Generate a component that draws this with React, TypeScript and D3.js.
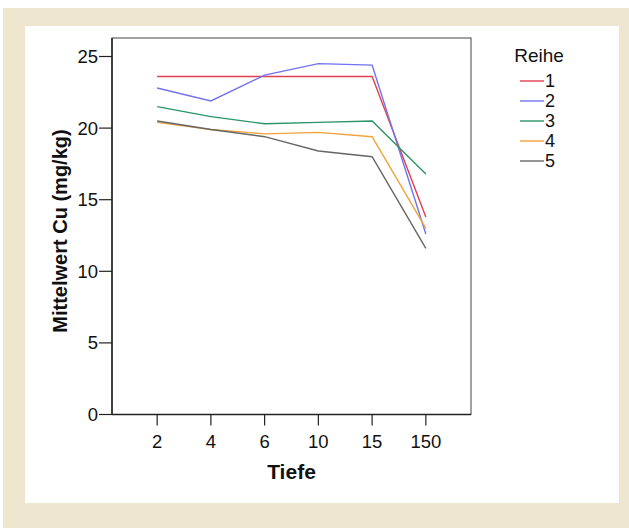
import React from "react";
import * as d3 from "d3";

const categories = ["2", "4", "6", "10", "15", "150"];
const seriesNames = ["1", "2", "3", "4", "5"];
const reihe1 = [23.6, 23.6, 23.6, 23.6, 23.6, 13.8];
const reihe2 = [22.8, 21.9, 23.7, 24.5, 24.4, 12.6];
const reihe3 = [21.5, 20.8, 20.3, 20.4, 20.5, 16.8];
const reihe4 = [20.4, 19.9, 19.6, 19.7, 19.4, 13.0];
const reihe5 = [20.5, 19.9, 19.4, 18.4, 18.0, 11.6];
const yTicks = [0, 5, 10, 15, 20, 25];
const colors = ["#e0404e", "#7272f2", "#2a9468", "#f2a23a", "#666666"];

export default function App() {
  const W = 629, H = 528;
  const left = 112, right = 471, top = 38, bottom = 414.5;
  const x = d3.scalePoint<string>().domain(categories).range([left, right]).padding(0.84);
  const y = d3.scaleLinear().domain([0, 25]).range([bottom, 56.5]);
  const series = [reihe1, reihe2, reihe3, reihe4, reihe5];
  const line = d3
    .line<number>()
    .x((_, i) => x(categories[i]) as number)
    .y((d) => y(d));
  const font = "Arial, 'Liberation Sans', Helvetica, sans-serif";
  return (
    <svg
      width={W}
      height={H}
      style={{ position: "absolute", left: 0, top: 0, display: "block" }}
      fontFamily={font}
    >
      <rect x={0} y={0} width={W} height={H} fill="#ffffff" />
      <rect x={3} y={8} width={W - 3} height={H - 8} fill="#efe6cf" />
      <rect x={25} y={26} width={594} height={477} fill="#ffffff" />
      {/* frame */}
      <rect x={left} y={top} width={right - left} height={bottom - top} fill="none" stroke="#444" strokeWidth={1} />
      <line x1={left} x2={left} y1={top} y2={bottom} stroke="#222" strokeWidth={1.5} />
      <line x1={left} x2={right} y1={bottom} y2={bottom} stroke="#222" strokeWidth={1.5} />
      {/* y ticks */}
      {yTicks.map((t) => (
        <g key={t}>
          <line x1={left - 13} x2={left} y1={y(t)} y2={y(t)} stroke="#222" strokeWidth={1.2} />
          <text x={left - 14} y={y(t)} dy="0.35em" textAnchor="end" fontSize={18.5} fill="#111">
            {t}
          </text>
        </g>
      ))}
      {/* x ticks */}
      {categories.map((c) => (
        <g key={c}>
          <line x1={x(c)} x2={x(c)} y1={bottom} y2={bottom + 11} stroke="#222" strokeWidth={1.2} />
          <text x={x(c)} y={442} dy="0.35em" textAnchor="middle" fontSize={18.5} fill="#111">
            {c}
          </text>
        </g>
      ))}
      <text x={291.5} y={472} dy="0.35em" textAnchor="middle" fontSize={21} fontWeight="bold" fill="#111">
        Tiefe
      </text>
      <text
        transform={`translate(60,231) rotate(-90)`}
        textAnchor="middle"
        dy="0.35em"
        fontSize={20}
        fontWeight="bold"
        fill="#111"
      >
        Mittelwert Cu (mg/kg)
      </text>
      {/* lines */}
      {series.map((s, i) => (
        <path key={i} d={line(s) || ""} fill="none" stroke={colors[i]} strokeWidth={1.4} />
      ))}
      {/* legend */}
      <text x={539} y={55} dy="0.35em" textAnchor="middle" fontSize={19} fill="#111">
        Reihe
      </text>
      {seriesNames.map((n, i) => (
        <g key={n}>
          <line x1={520} x2={544} y1={81 + i * 20} y2={81 + i * 20} stroke={colors[i]} strokeWidth={1.4} />
          <text x={545} y={81 + i * 20} dy="0.35em" fontSize={18} fill="#111">
            {n}
          </text>
        </g>
      ))}
    </svg>
  );
}
